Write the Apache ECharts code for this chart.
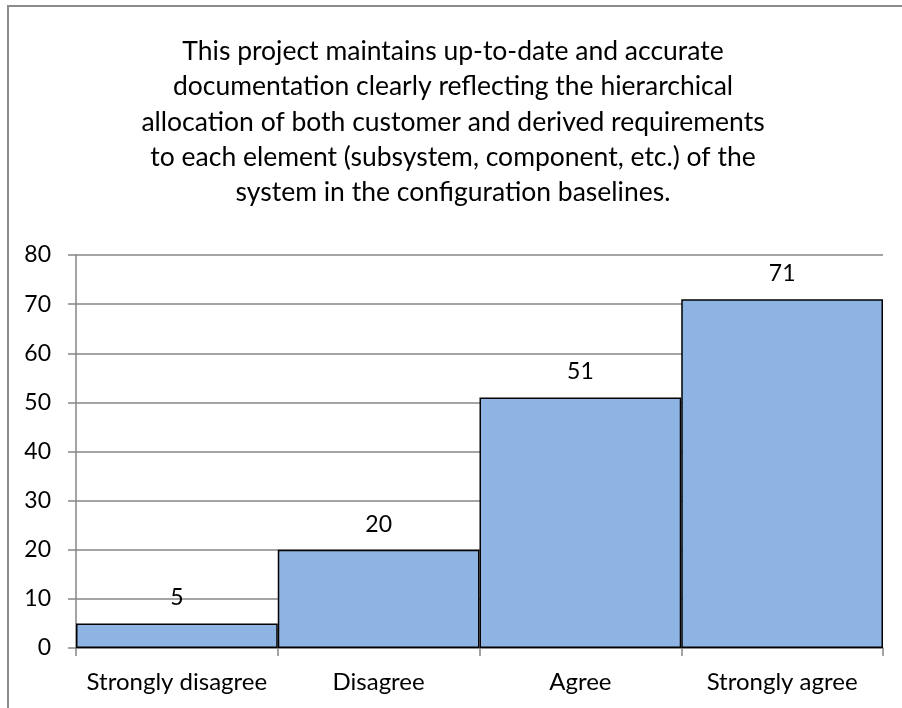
<!DOCTYPE html>
<html><head><meta charset="utf-8">
<script src="https://cdn.jsdelivr.net/npm/echarts@6/dist/echarts.min.js"></script>
<style>
html,body{margin:0;padding:0;background:#fff;overflow:hidden}
#frame{position:absolute;left:7px;top:5px;width:1000px;height:800px;border:2px solid #8c8c8c;box-sizing:border-box}
#c{position:absolute;left:0;top:0;width:902px;height:708px}
</style></head>
<body>
<div id="frame"></div>
<div id="c"></div>
<script>
var titleLines = [
  "This project maintains up-to-date and accurate",
  "documentation clearly reflecting the hierarchical",
  "allocation of both customer and derived requirements",
  "to each element (subsystem, component, etc.) of the",
  "system in the configuration baselines."
];
var categories = ["Strongly disagree", "Disagree", "Agree", "Strongly agree"];
var values = [5, 20, 51, 71];

var FONT = 'Lato';
var chart = echarts.init(document.getElementById('c'), null, {renderer:'canvas'});
chart.setOption({
  animation:false,
  graphic:[{
    type:'text', x:453, y:34,
    style:{text:titleLines.join('\n'), fontFamily:FONT, fontSize:26.5, fill:'#000', lineHeight:35.3, align:'center', verticalAlign:'top'}
  }],
  grid:{left:76, right:19, top:255, bottom:60},
  xAxis:{
    type:'category', data:categories,
    axisLine:{lineStyle:{color:'#868686', width:1.5}},
    axisTick:{show:true, length:8, lineStyle:{color:'#868686', width:1.5}},
    axisLabel:{fontFamily:FONT, fontSize:24, color:'#000', margin:22, interval:0}
  },
  yAxis:{
    type:'value', min:0, max:80, interval:10,
    axisLine:{show:true, lineStyle:{color:'#868686', width:1.5}},
    axisTick:{show:true, length:8, lineStyle:{color:'#868686', width:1.5}},
    splitLine:{lineStyle:{color:'#868686', width:1.5}},
    axisLabel:{fontFamily:FONT, fontSize:23, color:'#000', margin:25}
  },
  series:[{
    type:'bar', data:values, barCategoryGap:'0%',
    itemStyle:{color:'#8EB4E3', borderColor:'#000', borderWidth:1.5},
    label:{show:true, position:'top', distance:14, fontFamily:FONT, fontSize:23, color:'#000'}
  }]
});
</script>
</body></html>
